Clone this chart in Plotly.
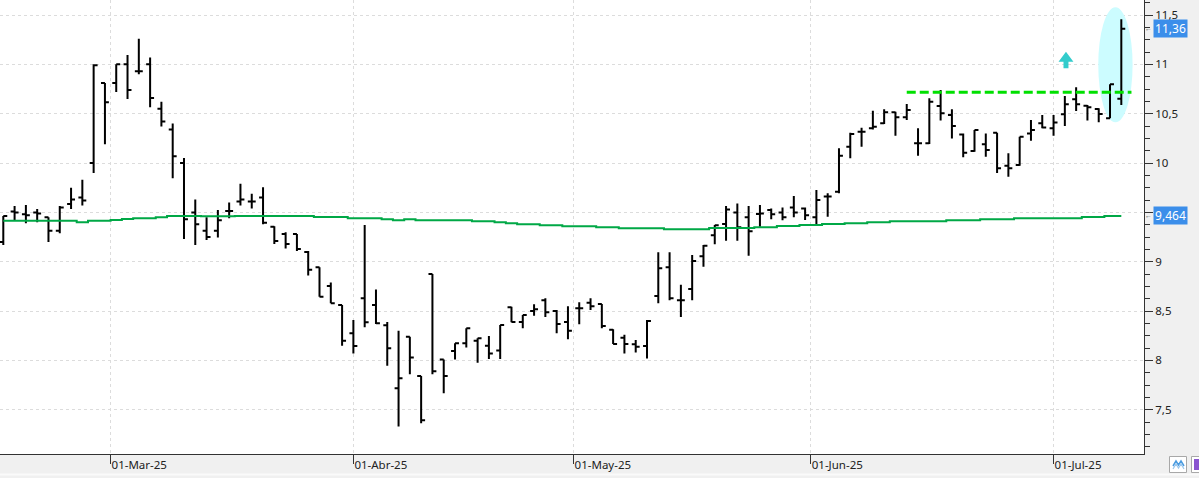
import plotly.graph_objects as go
import pandas as pd

# ---------------- data ----------------
holidays = ["2025-04-18", "2025-04-21", "2025-05-01"]
dates = [d for d in pd.bdate_range("2025-02-17", "2025-07-09")
         if d.strftime("%Y-%m-%d") not in holidays]

open_ = [9.20, 9.51, 9.48, 9.50, 9.45, 9.315, 9.585, 9.65, 10.00, 10.81,
         10.81, 11.00, 10.93, 11.00, 10.55, 10.34, 10.00, 9.50, 9.315, 9.315,
         9.515, 9.61, 9.61, 9.65, 9.355, 9.28, 9.28, 9.10, 8.944, 8.754,
         8.562, 8.275, 8.63, 8.562, 8.356, 7.718, 8.24, 7.842, 8.876, 8.01,
         8.096, 8.174, 8.20, 8.15, 8.10, 8.538, 8.39, 8.50, 8.61, 8.50,
         8.39, 8.53, 8.585, 8.572, 8.31, 8.23, 8.163, 8.146, 8.653, 8.944,
         8.61, 8.724, 9.055, 9.268, 9.383, 9.50, 9.45, 9.484, 9.524, 9.50,
         9.55, 9.54, 9.45, 9.66, 9.71, 10.166, 10.318, 10.352, 10.403, 10.514,
         10.464, 10.20, 10.20, 10.578, 10.487, 10.29, 10.122, 10.19, 10.307, 9.973,
         9.98, 10.30, 10.403, 10.352, 10.494, 10.646, 10.58, 10.548, 10.453, 10.652]

high = [9.464, 9.565, 9.575, 9.535, 9.45, 9.565, 9.75, 9.83, 11.00, 10.81,
        11.00, 11.095, 11.26, 11.07, 10.62, 10.40, 10.05, 9.63, 9.45, 9.525,
        9.60, 9.79, 9.69, 9.755, 9.36, 9.30, 9.28, 9.11, 8.944, 8.79,
        8.562, 8.41, 9.372, 8.72, 8.39, 8.30, 8.24, 7.842, 8.876, 8.01,
        8.174, 8.326, 8.224, 8.247, 8.36, 8.545, 8.46, 8.57, 8.63, 8.51,
        8.55, 8.59, 8.63, 8.572, 8.316, 8.26, 8.207, 8.41, 9.096, 9.096,
        8.766, 9.068, 9.17, 9.372, 9.565, 9.59, 9.565, 9.575, 9.54, 9.55,
        9.666, 9.55, 9.727, 9.694, 10.15, 10.307, 10.358, 10.53, 10.544, 10.52,
        10.598, 10.352, 10.656, 10.74, 10.544, 10.30, 10.335, 10.30, 10.307, 10.10,
        10.267, 10.436, 10.487, 10.487, 10.68, 10.767, 10.588, 10.555, 10.798, 11.456]

low = [9.17, 9.42, 9.39, 9.40, 9.20, 9.29, 9.535, 9.57, 9.90, 10.19,
       10.72, 10.65, 10.90, 10.565, 10.37, 9.845, 9.23, 9.17, 9.22, 9.245,
       9.44, 9.57, 9.54, 9.38, 9.18, 9.135, 9.11, 8.86, 8.646, 8.58,
       8.15, 8.07, 8.336, 8.37, 7.947, 7.33, 7.86, 7.363, 7.86, 7.667,
       8.01, 8.13, 7.977, 8.015, 8.015, 8.386, 8.325, 8.453, 8.44, 8.275,
       8.214, 8.366, 8.51, 8.326, 8.167, 8.07, 8.08, 8.02, 8.58, 8.61,
       8.44, 8.61, 8.95, 9.177, 9.213, 9.213, 9.06, 9.355, 9.43, 9.42,
       9.45, 9.423, 9.382, 9.456, 9.694, 10.048, 10.166, 10.34, 10.396, 10.277,
       10.436, 10.075, 10.193, 10.43, 10.25, 10.058, 10.115, 10.065, 9.90, 9.862,
       9.973, 10.227, 10.352, 10.277, 10.375, 10.527, 10.43, 10.413, 10.453, 10.588]

close = [9.464, 9.50, 9.47, 9.49, 9.315, 9.55, 9.63, 9.62, 10.99, 10.615,
         11.00, 10.74, 10.93, 10.66, 10.42, 10.07, 9.43, 9.38, 9.25, 9.42,
         9.515, 9.63, 9.61, 9.395, 9.21, 9.18, 9.13, 8.92, 8.646, 8.58,
         8.20, 8.146, 8.387, 8.376, 8.123, 7.82, 8.03, 7.394, 7.89, 7.842,
         8.174, 8.326, 8.224, 8.07, 8.36, 8.39, 8.46, 8.52, 8.488, 8.37,
         8.30, 8.53, 8.55, 8.35, 8.167, 8.167, 8.14, 8.40, 8.933, 8.63,
         8.61, 9.008, 9.163, 9.37, 9.53, 9.35, 9.31, 9.49, 9.48, 9.45,
         9.50, 9.47, 9.626, 9.66, 10.074, 10.294, 10.318, 10.368, 10.514, 10.464,
         10.537, 10.20, 10.62, 10.504, 10.375, 10.105, 10.335, 10.132, 9.947, 9.947,
         10.267, 10.335, 10.36, 10.41, 10.595, 10.595, 10.565, 10.497, 10.798, 11.36]

moving_avg = [9.416, 9.416, 9.416, 9.416, 9.416, 9.416, 9.416, 9.40, 9.416, 9.416,
              9.423, 9.433, 9.44, 9.44, 9.45, 9.464, 9.464, 9.464, 9.46, 9.46,
              9.46, 9.464, 9.464, 9.464, 9.464, 9.464, 9.464, 9.464, 9.453, 9.453,
              9.453, 9.44, 9.44, 9.44, 9.43, 9.42, 9.43, 9.42, 9.42, 9.42,
              9.42, 9.42, 9.41, 9.41, 9.40, 9.39, 9.38, 9.38, 9.37, 9.37,
              9.36, 9.36, 9.36, 9.35, 9.35, 9.339, 9.339, 9.339, 9.339, 9.33,
              9.33, 9.33, 9.33, 9.342, 9.342, 9.342, 9.342, 9.35, 9.35, 9.362,
              9.362, 9.372, 9.372, 9.382, 9.382, 9.39, 9.39, 9.40, 9.40, 9.41,
              9.41, 9.41, 9.41, 9.41, 9.42, 9.42, 9.42, 9.43, 9.43, 9.43,
              9.44, 9.44, 9.44, 9.44, 9.44, 9.44, 9.453, 9.453, 9.464, 9.464]

month_starts = ["2025-03-01", "2025-04-01", "2025-05-01", "2025-06-01", "2025-07-01"]
month_labels = ["01-Mar-25", "01-Abr-25", "01-May-25", "01-Jun-25", "01-Jul-25"]

y_ticks = [7.5, 8.0, 8.5, 9.0, 9.5, 10.0, 10.5, 11.0, 11.5]
y_ticktext = ["7,5", "8", "8,5", "9", "", "10", "10,5", "11", "11,5"]  # 9,5 hidden behind value box
resistance = 10.717
ma_last = 9.464

# ---------------- derived ----------------
idx = list(range(len(dates)))
tick_pos = []
for m in month_starts:
    mt = pd.Timestamp(m)
    k = next(i for i, d in enumerate(dates) if d >= mt)
    tick_pos.append(k if dates[k] == mt else k - 0.5)

def fmt(v, nd):
    return f"{v:.{nd}f}".replace(".", ",")

# plot geometry (pixels)
W, H = 1199, 478
PL, PR, PT, PB = 0, 1144, 0, 454

def px(x):
    return (x - PL) / (PR - PL)

def py(y):
    return (PB - y) / (PB - PT)

FONT = "Noto Sans"

fig = go.Figure()

fig.add_trace(go.Ohlc(
    x=idx, open=open_, high=high, low=low, close=close,
    increasing=dict(line=dict(color="black", width=2)),
    decreasing=dict(line=dict(color="black", width=2)),
    tickwidth=0.35, hoverinfo="skip", showlegend=False,
))

fig.add_trace(go.Scatter(
    x=idx, y=moving_avg, mode="lines",
    line=dict(color="#00A846", width=2, shape="hvh"),
    hoverinfo="skip", showlegend=False,
))

shapes = []
# highlight ellipse around last bars
shapes.append(dict(type="circle", xref="x", yref="y",
                   x0=96.96, x1=100.0, y0=10.413, y1=11.578,
                   fillcolor="#CCFCFF", line=dict(width=0), layer="between"))
# resistance dashed line
shapes.append(dict(type="line", xref="x", yref="y",
                   x0=80.0, x1=99.9, y0=resistance, y1=resistance,
                   line=dict(color="#00E000", width=3, dash="9px,4px"), layer="above"))
# up arrow
ax, tip, base, bot = 94.1, 11.128, 11.027, 10.96
hw, sw = 0.66, 0.22
arrow_path = (f"M {ax},{tip} L {ax+hw},{base} L {ax+sw},{base} L {ax+sw},{bot} "
              f"L {ax-sw},{bot} L {ax-sw},{base} L {ax-hw},{base} Z")
shapes.append(dict(type="path", xref="x", yref="y", path=arrow_path,
                   fillcolor="#33CCCC", line=dict(width=0), layer="above"))
# bottom light separator
shapes.append(dict(type="line", xref="paper", yref="paper",
                   x0=px(0), x1=px(W), y0=py(474.5), y1=py(474.5),
                   line=dict(color="#FAFAFA", width=2)))
# bottom-right icons
shapes.append(dict(type="rect", xref="paper", yref="paper",
                   x0=px(1169.5), x1=px(1186.5), y0=py(472.5), y1=py(456.5),
                   fillcolor="white", line=dict(color="#A8A8A8", width=1)))
zz = [(1173, 466), (1176, 461), (1178.5, 465), (1181, 461), (1184, 466)]
zz_path = "M " + " L ".join(f"{px(a)},{py(b)}" for a, b in zz)
shapes.append(dict(type="path", xref="paper", yref="paper", path=zz_path,
                   line=dict(color="#4A9BE0", width=1.5)))
zz2 = [(1173, 469), (1176, 464), (1178.5, 468), (1181, 464), (1184, 469)]
zz2_path = "M " + " L ".join(f"{px(a)},{py(b)}" for a, b in zz2)
shapes.append(dict(type="path", xref="paper", yref="paper", path=zz2_path,
                   line=dict(color="#9CC8EE", width=1.2)))
shapes.append(dict(type="rect", xref="paper", yref="paper",
                   x0=px(1191.5), x1=px(1201), y0=py(472.5), y1=py(456.5),
                   fillcolor="white", line=dict(color="#A8A8A8", width=1)))
shapes.append(dict(type="rect", xref="paper", yref="paper",
                   x0=px(1194), x1=px(1201), y0=py(470), y1=py(459),
                   fillcolor="#8A55D0", line=dict(width=0)))

annotations = []
for val, nd in [(close[-1], 2), (ma_last, 3)]:
    annotations.append(dict(
        x=px(1153), xref="paper", y=val, yref="y",
        xanchor="left", yanchor="middle", text=fmt(val, nd),
        showarrow=False, bgcolor="#3B8EEA", width=33, height=17, borderpad=0,
        font=dict(family=FONT, size=12, color="white"), align="center"))
    annotations.append(dict(
        x=px(1152.5), xref="paper", y=val, yref="y",
        xanchor="right", yanchor="middle", text="←", borderpad=0,
        showarrow=False, font=dict(family=FONT, size=7, color="#555555")))

fig.update_layout(
    width=W, height=H,
    margin=dict(l=PL, r=W - PR, t=PT, b=H - PB),
    paper_bgcolor="#F0F0F0", plot_bgcolor="white",
    separators=",.",
    shapes=shapes, annotations=annotations,
    hovermode=False,
    font=dict(family=FONT, size=12, color="#222222"),
)

x0 = -3.3 / 11.293
x1 = (PR - 3.3) / 11.293
fig.update_xaxes(
    range=[x0, x1], rangeslider=dict(visible=False),
    tickmode="array", tickvals=tick_pos, ticktext=month_labels,
    ticks="outside", ticklen=9, tickcolor="#333333", tickwidth=1,
    ticklabelposition="outside right",
    tickfont=dict(family=FONT, size=11.5, color="#222222"),
    showline=True, linecolor="#333333", linewidth=1,
    showgrid=True, gridcolor="#DCDCDC", griddash="3px,3px", gridwidth=1,
    zeroline=False, fixedrange=True,
)
fig.update_yaxes(
    side="right", range=[11.5 - (PB - 15) / 98.7, 11.5 + 15 / 98.7],
    tickmode="array", tickvals=y_ticks, ticktext=y_ticktext,
    ticks="outside", ticklen=8, tickcolor="#333333", tickwidth=1,
    minor=dict(dtick=0.125, tick0=7.5, ticks="outside", ticklen=5,
               tickcolor="#333333", showgrid=False),
    tickfont=dict(family=FONT, size=11.5, color="#222222"),
    showline=True, linecolor="#333333", linewidth=1,
    showgrid=True, gridcolor="#DCDCDC", griddash="3px,3px", gridwidth=1,
    zeroline=False, fixedrange=True,
)

fig.write_html("out.html", config={"displayModeBar": False})
